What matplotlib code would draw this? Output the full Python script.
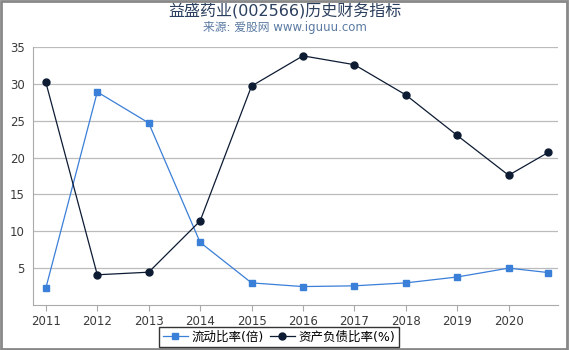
import matplotlib
matplotlib.use("Agg")
import matplotlib.pyplot as plt
from matplotlib.patches import Rectangle

plt.rcParams['font.family'] = ['DejaVu Sans', 'Noto Sans CJK SC']

years = [2011, 2012, 2013, 2014, 2015, 2016, 2017, 2018, 2019, 2020, 2020.77]
tick_years = [2011, 2012, 2013, 2014, 2015, 2016, 2017, 2018, 2019, 2020]
current_ratio = [2.3, 28.9, 24.7, 8.5, 3.0, 2.5, 2.6, 3.0, 3.8, 5.0, 4.4]
debt_ratio = [30.2, 4.1, 4.45, 11.4, 29.7, 33.8, 32.6, 28.5, 23.0, 17.6, 20.7]
y_ticks = [5, 10, 15, 20, 25, 30, 35]

fig = plt.figure(figsize=(5.7, 3.5), dpi=100)
ax = fig.add_axes([33/570, 1 - 305/350, (558-33)/570, (305-47)/350])

blue = '#3a7fd8'
navy = '#0d1b33'
ax.plot(years, current_ratio, color=blue, marker='s', markersize=5, linewidth=0.9, label='流动比率(倍)')
ax.plot(years, debt_ratio, color=navy, marker='o', markersize=5, linewidth=0.9, label='资产负债比率(%)')

ax.set_xlim(2010.75, 2020.96)
ax.set_ylim(0, 35)
ax.set_yticks(y_ticks)
ax.set_xticks(tick_years)
ax.set_xticklabels([str(y) for y in tick_years])
ax.grid(axis='y', color='#bbbbbb', linewidth=0.9)
ax.set_axisbelow(True)
for s in ['top', 'right']:
    ax.spines[s].set_visible(False)
for s in ['left', 'bottom']:
    ax.spines[s].set_color('#aaaaaa')
ax.tick_params(axis='both', colors='#aaaaaa', labelcolor='#3a3a3a', labelsize=8.5, length=4)
ax.tick_params(axis='y', length=0, pad=6)

fig.text(0.5, 1 - 11/350, '益盛药业(002566)历史财务指标', ha='center', va='center', fontsize=11.5, color='#2b3f5e')
fig.text(0.5, 1 - 28/350, '来源: 爱股网 www.iguuu.com', ha='center', va='center', fontsize=8.5, color='#5a7aa3')

leg = fig.legend(loc='center', bbox_to_anchor=(279/570, 1 - 337/350), ncol=2, frameon=True, fontsize=9,
                 handlelength=2.0, handletextpad=0.3, columnspacing=0.5, borderpad=0.3, fancybox=False)
leg.get_frame().set_edgecolor('black')
leg.get_frame().set_linewidth(1.0)

fig.patches.append(Rectangle((0.002, 0.003), 0.993, 0.994, transform=fig.transFigure, fill=False,
                             edgecolor='#888888', linewidth=2))

fig.savefig('out.png', dpi=100)
